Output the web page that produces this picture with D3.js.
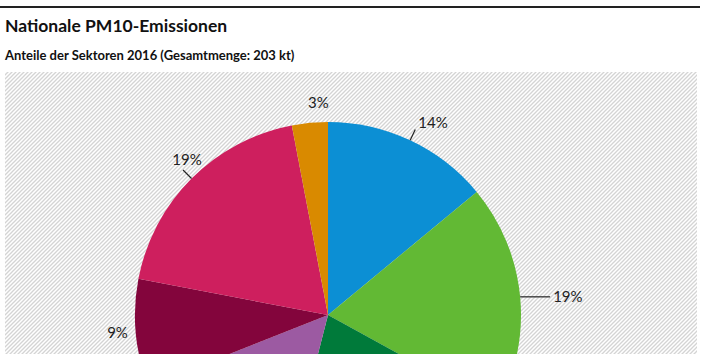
<!DOCTYPE html>
<html>
<head>
<meta charset="utf-8">
<script src="https://cdn.jsdelivr.net/npm/d3@7"></script>
<style>
  body { margin: 0; background: #fff; }
  svg { display: block; font-family: Lato, "Open Sans", sans-serif; }
</style>
</head>
<body>
<div id="chart"></div>
<script>
// Anteile der Sektoren 2016, im Uhrzeigersinn ab 12 Uhr
var sectors = ["Sektor A", "Sektor B", "Sektor C", "Sektor D", "Sektor E", "Sektor F", "Sektor G"]
var shares = [14, 19, 21, 15, 9, 19, 3]
var colors = ["#0c8fd4", "#62b934", "#007a3a", "#9c5aa2", "#83053c", "#ce1f5e", "#d98a00"]

var title = "Nationale PM10-Emissionen"
var subtitle = "Anteile der Sektoren 2016 (Gesamtmenge: 203 kt)"

var W = 707, H = 354

var svg = d3.select("#chart").append("svg")
  .attr("width", W)
  .attr("height", H)

// schraffierter Hintergrund
var pat = svg.append("defs").append("pattern")
  .attr("id", "hatch")
  .attr("patternUnits", "userSpaceOnUse")
  .attr("width", 4)
  .attr("height", 4)
pat.append("rect").attr("width", 4).attr("height", 4).attr("fill", "#fff")
pat.append("path")
  .attr("d", "M-1,1 l2,-2 M0,4 l4,-4 M3,5 l2,-2")
  .attr("stroke", "#d4d4d4")
  .attr("stroke-width", 1.3)

svg.append("rect")
  .attr("x", 5)
  .attr("y", 72)
  .attr("width", 692)
  .attr("height", H - 72)
  .attr("fill", "url(#hatch)")

svg.append("line")
  .attr("x1", 0).attr("x2", 700)
  .attr("y1", 7).attr("y2", 7)
  .attr("stroke", "#222")
  .attr("stroke-width", 2)

svg.append("text")
  .text(title)
  .attr("x", 5)
  .attr("y", 32)
  .attr("font-size", 17.5)
  .attr("font-weight", "bold")
  .attr("fill", "#111")

svg.append("text")
  .text(subtitle)
  .attr("x", 5)
  .attr("y", 60)
  .attr("font-size", 13)
  .attr("font-weight", "bold")
  .attr("fill", "#111")

var cx = 328, cy = 315, r = 193

var pie = d3.pie().sort(null).value(d => d)
var arcs = pie(shares)

var arc = d3.arc().innerRadius(0).outerRadius(r)

var g = svg.append("g").attr("transform", "translate(" + cx + "," + cy + ")")

g.selectAll("path")
  .data(arcs)
  .enter()
  .append("path")
  .attr("d", arc)
  .attr("fill", (d, i) => colors[i])

// Beschriftungen
function pt(a, rad) {
  return [rad * Math.sin(a), -rad * Math.cos(a)]
}

arcs.forEach(function (d) {
  var a = (d.startAngle + d.endAngle) / 2
  var label = d.value + "%"
  var withLine = d.value >= 10
  var horizontal = Math.abs(Math.cos(a)) < 0.35
  var right = Math.sin(a) > 0
  var e = pt(a, r)

  // Beschriftungen unterhalb des sichtbaren Ausschnitts weglassen
  if (cy + pt(a, r + 19)[1] > H - 8) return

  if (horizontal) {
    var tx = e[0] + (right ? 1 : -1) * (withLine ? 33 : 8)
    if (withLine) {
      g.append("line")
        .attr("x1", e[0]).attr("y1", e[1])
        .attr("x2", e[0] + (right ? 30 : -30)).attr("y2", e[1])
        .attr("stroke", "#222").attr("stroke-width", 1.2)
    }
    g.append("text")
      .text(label)
      .attr("x", tx)
      .attr("y", e[1])
      .attr("dy", "0.35em")
      .attr("text-anchor", right ? "start" : "end")
      .attr("font-size", 15)
      .attr("fill", "#222")
  } else if (withLine && !right) {
    // links oben: Text über dem Ende der Linie
    var p = pt(a, r + 12)
    g.append("line")
      .attr("x1", e[0]).attr("y1", e[1])
      .attr("x2", p[0]).attr("y2", p[1])
      .attr("stroke", "#222").attr("stroke-width", 1.2)
    g.append("text")
      .text(label)
      .attr("x", p[0] + 4)
      .attr("y", p[1] - 5)
      .attr("text-anchor", "middle")
      .attr("font-size", 15)
      .attr("fill", "#222")
  } else {
    if (withLine) {
      var p2 = pt(a, r + 12)
      g.append("line")
        .attr("x1", e[0]).attr("y1", e[1])
        .attr("x2", p2[0]).attr("y2", p2[1])
        .attr("stroke", "#222").attr("stroke-width", 1.2)
    }
    var t = pt(a, r + 19)
    g.append("text")
      .text(label)
      .attr("x", t[0])
      .attr("y", t[1])
      .attr("dy", "0.3em")
      .attr("text-anchor", "start")
      .attr("font-size", 15)
      .attr("fill", "#222")
  }
})
</script>
</body>
</html>
